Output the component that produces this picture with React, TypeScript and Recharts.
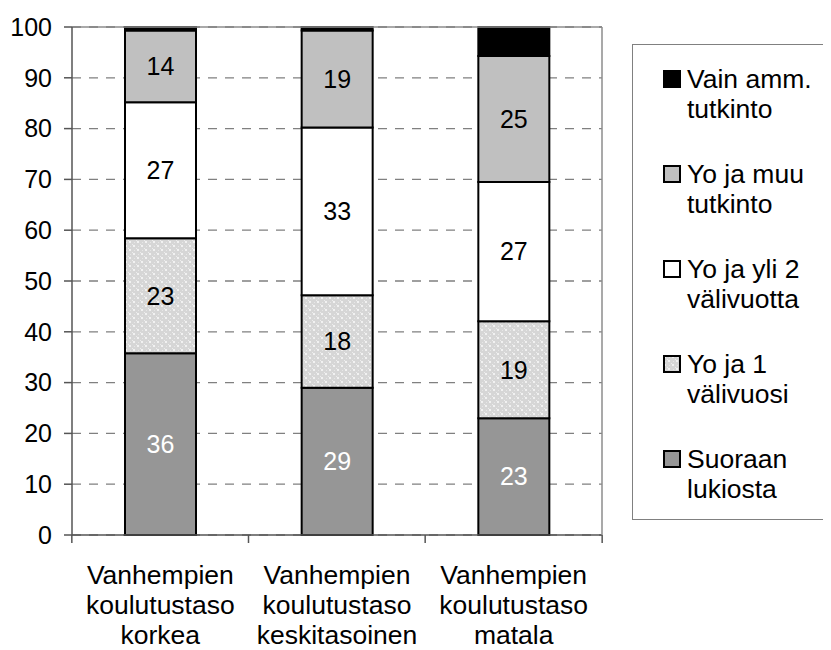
import React from 'react';
import { BarChart, Bar, XAxis, YAxis, CartesianGrid, LabelList, ReferenceLine } from 'recharts';

// ---- data ----
const categories = ['korkea', 'keskitasoinen', 'matala'];
const categoryLines = [
  ['Vanhempien', 'koulutustaso', 'korkea'],
  ['Vanhempien', 'koulutustaso', 'keskitasoinen'],
  ['Vanhempien', 'koulutustaso', 'matala'],
];
const suoraanLukiosta = [35.8, 29.0, 23.0];
const yoJa1Valivuosi = [22.6, 18.2, 19.1];
const yoJaYli2Valivuotta = [26.8, 33.0, 27.4];
const yoJaMuuTutkinto = [14.1, 19.1, 24.8];
const vainAmmTutkinto = [0.7, 0.7, 5.7];
const yTicks = [0, 10, 20, 30, 40, 50, 60, 70, 80, 90, 100];

const seriesNames = {
  suoraan: ['Suoraan', 'lukiosta'],
  yo1: ['Yo ja 1', 'välivuosi'],
  yoYli2: ['Yo ja yli 2', 'välivuotta'],
  yoMuu: ['Yo ja muu', 'tutkinto'],
  vain: ['Vain amm.', 'tutkinto'],
};

// ---- styling ----
const FONT = '"Liberation Sans", Arial, Helvetica, sans-serif';
const FS = 25;
const FS_BIG = 26.5;
const PLOT_LEFT = 64;
const PLOT_RIGHT = 595;
const HALF_BAND = (PLOT_RIGHT - PLOT_LEFT) / categories.length / 2;

const series = [
  { key: 'suoraan', values: suoraanLukiosta, fill: '#969696', label: '#ffffff' },
  { key: 'yo1', values: yoJa1Valivuosi, fill: 'url(#dotsPattern)', label: '#000000' },
  { key: 'yoYli2', values: yoJaYli2Valivuotta, fill: '#ffffff', label: '#000000' },
  { key: 'yoMuu', values: yoJaMuuTutkinto, fill: '#c0c0c0', label: '#000000' },
  { key: 'vain', values: vainAmmTutkinto, fill: '#000000', label: null as string | null },
];

const data = categories.map((c, i) => {
  const row: Record<string, any> = { name: c };
  series.forEach((s) => {
    row[s.key] = s.values[i];
  });
  return row;
});

function DotsPatternDef({ id }: { id: string }) {
  return (
    <pattern id={id} width="8" height="8" patternUnits="userSpaceOnUse">
      <rect width="8" height="8" fill="#d6d6d6" />
      <rect x="0" y="0" width="1" height="1" fill="#ececec" />
      <rect x="4" y="4" width="1" height="1" fill="#ececec" />
      <rect x="2" y="6" width="1" height="1" fill="#e6e6e6" />
      <rect x="6" y="2" width="1" height="1" fill="#e6e6e6" />
      <circle cx="2" cy="2" r="0.9" fill="#ffffff" />
      <circle cx="6" cy="6" r="0.9" fill="#ffffff" />
    </pattern>
  );
}

function CategoryTick(props: any) {
  const { x, y, payload } = props;
  const idx = categories.indexOf(payload.value);
  const lines = categoryLines[idx] || [String(payload.value)];
  return (
    <g>
      <line x1={x - HALF_BAND} x2={x - HALF_BAND} y1={y} y2={y + 8} stroke="#555" strokeWidth={1.5} />
      {idx === categories.length - 1 && (
        <line x1={x + HALF_BAND} x2={x + HALF_BAND} y1={y} y2={y + 8} stroke="#555" strokeWidth={1.5} />
      )}
      <text x={x} y={y} textAnchor="middle" fontSize={FS_BIG} fill="#000" fontFamily={FONT}>
        {lines.map((l, i) => (
          <tspan key={i} x={x} y={y + 49 + i * 30}>
            {l}
          </tspan>
        ))}
      </text>
    </g>
  );
}

const legendOrder = ['vain', 'yoMuu', 'yoYli2', 'yo1', 'suoraan'];

function LegendBox() {
  return (
    <div
      style={{
        position: 'absolute',
        left: 624,
        top: 36,
        width: 240,
        height: 474,
        border: '1.5px solid #808080',
        background: '#fff',
        fontFamily: FONT,
        fontSize: FS_BIG,
        color: '#000',
      }}
    >
      {legendOrder.map((k, i) => {
        const s = series.find((x) => x.key === k)!;
        const lines = (seriesNames as any)[k] as string[];
        return (
          <div key={k} style={{ position: 'absolute', left: 30, top: 19 + i * 95, lineHeight: '30px' }}>
            <svg width={18} height={18} style={{ position: 'absolute', left: 0, top: 6 }}>
              <defs>
                <DotsPatternDef id={'legDots' + i} />
              </defs>
              <rect
                x={1}
                y={1}
                width={16}
                height={16}
                fill={s.fill.startsWith('url') ? `url(#legDots${i})` : s.fill}
                stroke="#000"
                strokeWidth={2}
              />
            </svg>
            <div style={{ marginLeft: 24, whiteSpace: 'nowrap' }}>
              {lines.map((l, j) => (
                <div key={j}>{l}</div>
              ))}
            </div>
          </div>
        );
      })}
    </div>
  );
}

export default function App() {
  return (
    <div style={{ position: 'relative', width: 823, height: 642, overflow: 'hidden', fontFamily: FONT, background: '#fff' }}>
      <BarChart
        width={823}
        height={642}
        data={data}
        margin={{ top: 19, right: 228, left: 0, bottom: 0 }}
        barCategoryGap="30%"
      >
        <defs>
          <DotsPatternDef id="dotsPattern" />
        </defs>
        <CartesianGrid vertical={false} stroke="#808080" strokeDasharray="9 8" strokeWidth={1.3} />
        <XAxis
          dataKey="name"
          height={115}
          interval={0}
          tickSize={0}
          tickMargin={0}
          tickLine={false}
          axisLine={{ stroke: '#555', strokeWidth: 1.5 }}
          tick={<CategoryTick />}
        />
        <YAxis
          domain={[0, 100]}
          ticks={yTicks}
          width={64}
          interval={0}
          tickSize={8}
          tickMargin={12}
          tickLine={{ stroke: '#555', strokeWidth: 1.5 }}
          axisLine={{ stroke: '#555', strokeWidth: 1.5 }}
          tick={{ fontSize: FS, fill: '#000', fontFamily: FONT }}
        />
        <YAxis
          yAxisId="right"
          orientation="right"
          domain={[0, 100]}
          width={1}
          tick={false}
          tickLine={false}
          axisLine={{ stroke: '#8c8c8c', strokeWidth: 1.5 }}
        />
        {series.map((s) => (
          <Bar
            key={s.key}
            dataKey={s.key}
            stackId="a"
            fill={s.fill}
            stroke="#000"
            strokeWidth={2}
            isAnimationActive={false}
          >
            {s.label && (
              <LabelList
                dataKey={s.key}
                position="center"
                formatter={(v: any) => Math.round(Number(v))}
                fill={s.label}
                fontSize={FS}
                fontFamily={FONT}
              />
            )}
          </Bar>
        ))}
        <ReferenceLine y={100} stroke="#8c8c8c" strokeWidth={1.5} />
      </BarChart>
      <LegendBox />
    </div>
  );
}
